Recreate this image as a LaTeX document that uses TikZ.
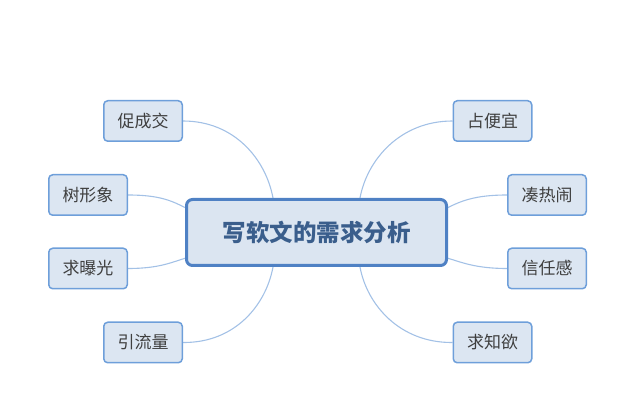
\documentclass[tikz,border=0pt]{standalone}
\usepackage{fontspec}
\usetikzlibrary{backgrounds}
\newfontfamily\cjk{Noto Sans CJK SC}
\definecolor{mainfill}{HTML}{DBE5F1}
\definecolor{mainborder}{HTML}{4F81C4}
\definecolor{maintext}{HTML}{3A5E8C}
\definecolor{subfill}{HTML}{DCE6F2}
\definecolor{subborder}{HTML}{6E9FDA}
\definecolor{subtext}{HTML}{3F3F3F}
\definecolor{linkcol}{HTML}{A3C1E6}
\begin{document}
\begin{tikzpicture}[x=1pt,y=-1pt,
  mainbox/.style={draw=mainborder,fill=mainfill,line width=3pt,rounded corners=6pt,
    minimum width=260pt,minimum height=66pt,inner sep=0pt,
    font=\cjk\bfseries\fontsize{23.5}{26}\selectfont,text=maintext},
  subbox/.style={draw=subborder,fill=subfill,line width=1.5pt,rounded corners=4pt,
    minimum width=78.5pt,minimum height=40.5pt,inner sep=0pt,
    font=\cjk\fontsize{17}{20}\selectfont,text=subtext},
  link/.style={draw=linkcol,line width=1.1pt}]
\useasboundingbox (0,0) rectangle (633,409);
\node[mainbox] (c) at (316.5,232.5) {写软文的需求分析};
\node[subbox] (l1) at (143,121) {促成交};
\node[subbox] (l2) at (88,195) {树形象};
\node[subbox] (l3) at (88,268.5) {求曝光};
\node[subbox] (l4) at (143,342.5) {引流量};
\node[subbox] (r1) at (492.5,121) {占便宜};
\node[subbox] (r2) at (547,195) {凑热闹};
\node[subbox] (r3) at (547,268.5) {信任感};
\node[subbox] (r4) at (492.5,342.5) {求知欲};
\coordinate (ct1) at (273,198);
\coordinate (ct2) at (360,198);
\coordinate (cb1) at (273,267);
\coordinate (cb2) at (360,267);
\coordinate (cl1) at (186,208);
\coordinate (cl2) at (186,258);
\coordinate (cr1) at (447,208);
\coordinate (cr2) at (447,258);
\begin{pgfonlayer}{background}
\draw[link] (l1.east) .. controls (235,121) and (266,160) .. (ct1);
\draw[link] (r1.west) .. controls (400,121) and (367,160) .. (ct2);
\draw[link] (l4.east) .. controls (235,343) and (266,305) .. (cb1);
\draw[link] (r4.west) .. controls (400,343) and (367,305) .. (cb2);
\draw[link] (l2.east) .. controls (160,195) and (172,201) .. (cl1);
\draw[link] (l3.east) .. controls (160,268.5) and (172,262) .. (cl2);
\draw[link] (r2.west) .. controls (475,195) and (461,201) .. (cr1);
\draw[link] (r3.west) .. controls (475,268.5) and (461,262) .. (cr2);
\end{pgfonlayer}
\end{tikzpicture}
\end{document}
